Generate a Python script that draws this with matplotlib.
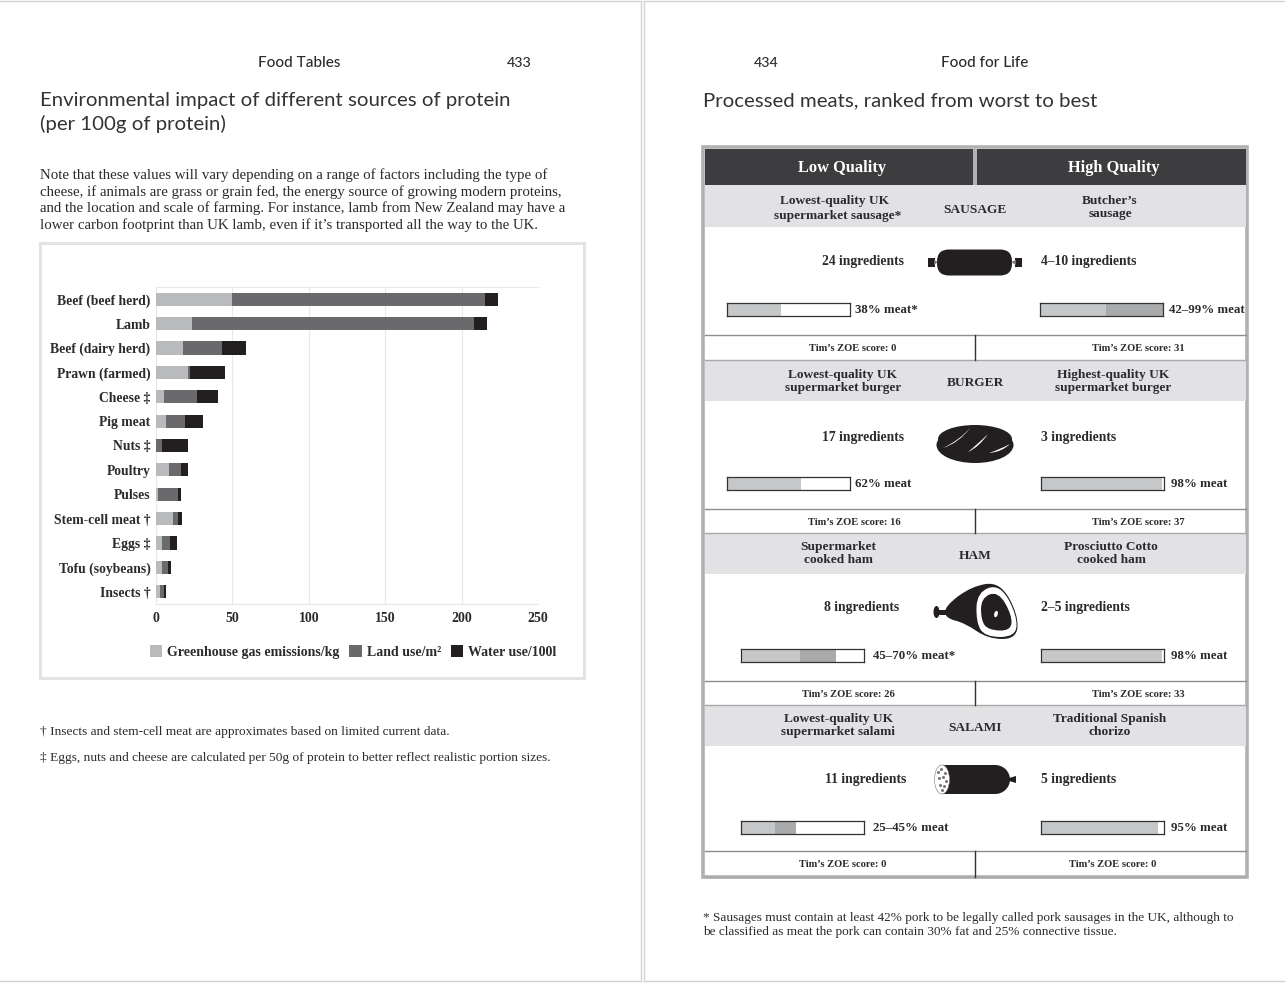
import matplotlib
matplotlib.use('Agg')
import matplotlib.pyplot as plt
from matplotlib.patches import Rectangle, FancyBboxPatch, Ellipse, PathPatch, Polygon
from matplotlib.path import Path

# chart data, left page
foods = ['Beef (beef herd)', 'Lamb', 'Beef (dairy herd)', 'Prawn (farmed)', 'Cheese ‡', 'Pig meat', 'Nuts ‡',
         'Poultry', 'Pulses', 'Stem-cell meat †', 'Eggs ‡', 'Tofu (soybeans)', 'Insects †']
ghg = [50, 23.4, 17.5, 20.8, 5.3, 6.4, 0, 8.3, 1.1, 11, 3.7, 3.7, 2.4]
land = [165, 184.7, 26, 1.3, 21.5, 12.5, 3.7, 7.9, 13.6, 3.3, 5.3, 4, 2.6]
water = [9, 8.5, 15.6, 23, 13.8, 11.8, 17.1, 4.6, 1.5, 2.8, 4.6, 1.9, 1.4]
xticks = [0, 50, 100, 150, 200, 250]
legend_labels = ['Greenhouse gas emissions/kg', 'Land use/m²', 'Water use/100l']

# meat bars, right page (light end, dark end) in percent
meat_low = [(44, 44), (60, 60), (48, 77), (28, 45)]
meat_high = [(54, 100), (98, 98), (98, 98), (95, 95)]
meat_low_txt = ['38% meat*', '62% meat', '45–70% meat*', '25–45% meat']
meat_high_txt = ['42–99% meat', '98% meat', '98% meat', '95% meat']
ingredients_low = ['24 ingredients', '17 ingredients', '8 ingredients', '11 ingredients']
ingredients_high = ['4–10 ingredients', '3 ingredients', '2–5 ingredients', '5 ingredients']
score_low = [0, 16, 26, 0]
score_high = [31, 37, 33, 0]
products = ['SAUSAGE', 'BURGER', 'HAM', 'SALAMI']
names_low = [('Lowest-quality UK', 'supermarket sausage*'), ('Lowest-quality UK', 'supermarket burger'),
             ('Supermarket', 'cooked ham'), ('Lowest-quality UK', 'supermarket salami')]
names_high = [('Butcher’s', 'sausage'), ('Highest-quality UK', 'supermarket burger'),
              ('Prosciutto Cotto', 'cooked ham'), ('Traditional Spanish', 'chorizo')]

SERIF = 'Liberation Serif'
SANS = 'Lato'
INK = '#2b2b2d'
BLACK = '#231f20'
W, H = 1285, 984

fig = plt.figure(figsize=(W / 100, H / 100), dpi=100, facecolor='white')
bg = fig.add_axes([0, 0, 1, 1])
bg.set_xlim(0, W)
bg.set_ylim(H, 0)
bg.axis('off')


def px_axes(x0, y0, x1, y1):
    return fig.add_axes([x0 / W, 1 - y1 / H, (x1 - x0) / W, (y1 - y0) / H])


def txt(x, y, s, size=10, ha='center', weight='normal', color=INK, family=SERIF):
    bg.text(x, y + 1, s, fontsize=size, ha=ha, va='center', fontweight=weight, color=color, family=family)


def rect(x0, y0, x1, y1, **kw):
    kw.setdefault('linewidth', 0)
    bg.add_patch(Rectangle((x0, y0), x1 - x0, y1 - y0, **kw))


def blob(pts, **kw):
    # smooth closed shape through midpoints of the control points
    n = len(pts)
    mid = lambda a, b: ((a[0] + b[0]) / 2, (a[1] + b[1]) / 2)
    verts = [mid(pts[-1], pts[0])]
    codes = [Path.MOVETO]
    for i in range(n):
        verts += [pts[i], mid(pts[i], pts[(i + 1) % n])]
        codes += [Path.CURVE3, Path.CURVE3]
    bg.add_patch(PathPatch(Path(verts, codes), linewidth=0, **kw))


def sliver(a, c1, b, c2):
    # thin tapered white stroke
    verts = [a, c1, b, c2, a]
    codes = [Path.MOVETO, Path.CURVE3, Path.CURVE3, Path.CURVE3, Path.CURVE3]
    bg.add_patch(PathPatch(Path(verts, codes), facecolor='white', linewidth=0))


# page edges
edge = '#d4d4d4'
bg.plot([0, 641, 641], [1, 1, 981], color=edge, lw=1)
bg.plot([0, 641], [981, 981], color=edge, lw=1)
bg.plot([643.5, 643.5], [1, 981], color=edge, lw=1)
bg.plot([644, 1285], [1, 1], color=edge, lw=1)
bg.plot([644, 1285], [981, 981], color=edge, lw=1)

# left page heading
txt(299, 62, 'Food Tables', 11, family=SANS, weight='medium')
txt(519, 62, '433', 10.2, family=SANS, weight='medium')
txt(40, 99.5, 'Environmental impact of different sources of protein', 14.65, ha='left', family=SANS, color='#333333')
txt(40, 122.5, '(per 100g of protein)', 14.65, ha='left', family=SANS, color='#333333')
para = ['Note that these values will vary depending on a range of factors including the type of',
        'cheese, if animals are grass or grain fed, the energy source of growing modern proteins,',
        'and the location and scale of farming. For instance, lamb from New Zealand may have a',
        'lower carbon footprint than UK lamb, even if it’s transported all the way to the UK.']
for y, line in zip([174.5, 191, 207.5, 224], para):
    txt(40, y, line, 10.75, ha='left')

# chart panel
rect(40, 242.5, 584, 677.5, facecolor='white', edgecolor='#e3e3e3', linewidth=2.2)
ax = px_axes(156, 287, 538, 604)
pos = list(range(len(foods)))
left2 = ghg
left3 = [a + b for a, b in zip(ghg, land)]
b1 = ax.barh(pos, ghg, height=0.54, color='#b9babc', zorder=3)
b2 = ax.barh(pos, land, left=left2, height=0.54, color='#6a6a6c', zorder=3)
b3 = ax.barh(pos, water, left=left3, height=0.54, color=BLACK, zorder=3)
ax.set_xlim(0, 250)
ax.set_ylim(len(foods) - 0.5, -0.5)
ax.set_yticks(pos)
ax.set_yticklabels(foods, fontsize=9.8, fontweight='bold', family=SERIF, color=INK)
ax.set_xticks(xticks)
ax.set_xticklabels(xticks, fontsize=10, fontweight='bold', family=SERIF, color=INK)
ax.tick_params(length=0, axis='y', pad=4)
ax.tick_params(length=0, axis='x', pad=6)
ax.grid(axis='x', color='#e8e8e8', lw=0.8, zorder=0)
for s in ax.spines.values():
    s.set_color('#e8e8e8')
    s.set_linewidth(0.8)
ax.spines['right'].set_visible(False)
ax.legend([b1, b2, b3], legend_labels, loc='center', bbox_to_anchor=(0.516, -0.152), ncol=3, frameon=False,
          handlelength=0.88, handleheight=0.88, handletextpad=0.36, columnspacing=0.72,
          prop={'family': SERIF, 'weight': 'bold', 'size': 10}, labelcolor=INK)

txt(40, 731, '† Insects and stem-cell meat are approximates based on limited current data.', 9.65, ha='left')
txt(40, 757, '‡ Eggs, nuts and cheese are calculated per 50g of protein to better reflect realistic portion sizes.', 9.65, ha='left')

# right page heading
txt(766, 62, '434', 10.2, family=SANS, weight='medium')
txt(985, 62, 'Food for Life', 11, family=SANS, weight='medium')
txt(703, 100, 'Processed meats, ranked from worst to best', 14.65, ha='left', family=SANS, color='#333333')

# table
rect(702.8, 147, 1247.2, 877.2, facecolor='white', edgecolor='#b1b1b3', linewidth=2.6)
rect(705, 149, 1245.5, 185, facecolor='#3d3d3f')
rect(973, 149, 976.5, 185, facecolor='#b1b1b3')
txt(842, 166.5, 'Low Quality', 11.8, weight='bold', color='white')
txt(1114, 166.5, 'High Quality', 11.8, weight='bold', color='white')

band_top = [185, 361, 533, 706]
band_bot = [227, 401, 574, 746]
score_top = [335, 509, 681, 851]
score_bot = [360, 533, 705, 877]
name_y = [(200, 215), (374, 387), (546, 559), (718, 731)]
name_y_high = [(200, 213), (374, 387), (546, 559), (718, 731)]
name_x_low = [835, 843, 838, 838]
name_x_high = [1110, 1113, 1111, 1110]
prod_y = [209, 382, 555, 727]
ingr_y = [261, 436, 607, 779]
ingr_x_low = [863, 863, 862, 866]
ingr_x_high = [1041, 1041, 1041, 1041]
bar_y = [303, 477, 649, 821]
bar_x_low = [727, 727, 741, 741]
bar_x_high = [1040, 1041, 1041, 1041]
label_gap_low = [128, 128, 132, 132]
label_gap_high = [129, 130, 130, 130]
score_x_low = [853, 854, 848, 843]
score_x_high = [1138, 1138, 1138, 1113]

for i in range(4):
    rect(705, band_top[i], 1245.5, band_bot[i], facecolor='#e2e2e4')
    bg.plot([705, 1245.5], [score_top[i], score_top[i]], color='#8e8e90', lw=1)
    bg.plot([705, 1245.5], [score_bot[i], score_bot[i]], color='#a8a8aa', lw=1)
    bg.plot([974.5, 974.5], [score_top[i], score_bot[i]], color='#333333', lw=1)
    txt(name_x_low[i], name_y[i][0], names_low[i][0], 9.6, weight='bold')
    txt(name_x_low[i] + (3 if i == 0 else 0), name_y[i][1], names_low[i][1], 9.6, weight='bold')
    txt(name_x_high[i], name_y_high[i][0], names_high[i][0], 9.6, weight='bold')
    txt(name_x_high[i], name_y_high[i][1], names_high[i][1], 9.6, weight='bold')
    txt(975, prod_y[i], products[i], 9.6, weight='bold')
    txt(ingr_x_low[i], ingr_y[i], ingredients_low[i], 9.8, weight='bold')
    txt(ingr_x_high[i], ingr_y[i], ingredients_high[i], 9.8, ha='left', weight='bold')
    txt(score_x_low[i], score_top[i] + 12.5, 'Tim’s ZOE score: %d' % score_low[i], 7.6, weight='bold')
    txt(score_x_high[i], score_top[i] + 12.5, 'Tim’s ZOE score: %d' % score_high[i], 7.6, weight='bold')
    # meat bars
    for x0, gap, vals, label in [(bar_x_low[i], label_gap_low[i], meat_low[i], meat_low_txt[i]),
                                 (bar_x_high[i], label_gap_high[i], meat_high[i], meat_high_txt[i])]:
        a = px_axes(x0, bar_y[i], x0 + 123, bar_y[i] + 13)
        a.barh([0], [vals[0]], height=1, color='#c6c7c9')
        a.barh([0], [vals[1] - vals[0]], left=[vals[0]], height=1, color='#a9aaac')
        a.set_xlim(0, 100)
        a.set_ylim(-0.5, 0.5)
        a.set_xticks([])
        a.set_yticks([])
        for s in a.spines.values():
            s.set_color('#333333')
            s.set_linewidth(0.9)
        txt(x0 + gap, bar_y[i] + 6, label, 9.3, ha='left', weight='bold')

# sausage
bg.add_patch(FancyBboxPatch((937, 249.5), 75, 26, boxstyle='round,pad=0,rounding_size=12',
                            facecolor=BLACK, linewidth=0))
rect(928, 258, 935, 267, facecolor=BLACK)
rect(1015, 258, 1022, 267, facecolor=BLACK)
bg.add_patch(Polygon([(934, 260), (938, 262), (934, 265)], facecolor='#777777', linewidth=0))
bg.add_patch(Polygon([(1016, 260), (1011, 262), (1016, 265)], facecolor='#777777', linewidth=0))

# burger
bg.add_patch(Ellipse((975, 445), 77, 36, facecolor=BLACK, linewidth=0))
bg.add_patch(Ellipse((975, 439), 74, 28, facecolor=BLACK, linewidth=0))
sliver((943, 448), (959, 443), (971, 427), (960, 440))
sliver((968, 452), (979, 447), (988, 434), (979, 443))
sliver((989, 453), (1002, 452), (1010, 444), (1001, 449))

# ham
blob([(945, 606), (972, 586), (1000, 582), (1018, 614), (1017, 639), (988, 639), (965, 623), (945, 618)],
     facecolor=BLACK)
bg.add_patch(Ellipse((936.5, 612), 6, 12, facecolor=BLACK, linewidth=0))
rect(937, 609.5, 947, 615, facecolor=BLACK)
blob([(977, 592), (1000, 584), (1017, 615), (1016, 637), (985, 637), (976, 622)], facecolor='white')
blob([(981, 598), (998, 591), (1012, 615), (1011, 631), (988, 630), (981, 620)], facecolor=BLACK)
bg.add_patch(Ellipse((996, 614), 3.5, 6.5, angle=15, facecolor='white', linewidth=0))

# salami
rect(942, 765, 995, 794, facecolor=BLACK)
bg.add_patch(Ellipse((995, 779.5), 30, 29, facecolor=BLACK, linewidth=0))
bg.add_patch(Polygon([(1009, 778), (1016, 776), (1016, 783), (1009, 781)], facecolor=BLACK, linewidth=0))
bg.add_patch(Ellipse((942, 779.5), 15, 29, facecolor='white', edgecolor='#777777', linewidth=0.4))
bg.plot([938, 941, 945, 939, 943, 946, 940, 944, 942], [772, 769, 773, 778, 777, 781, 785, 786, 790],
        ls='none', marker='o', ms=1.2, color='#777777')

txt(703, 917.5, '* Sausages must contain at least 42% pork to be legally called pork sausages in the UK, although to', 9.55, ha='left')
txt(703, 931.5, 'be classified as meat the pork can contain 30% fat and 25% connective tissue.', 9.55, ha='left')

fig.savefig('out.png', dpi=100, facecolor='white')
